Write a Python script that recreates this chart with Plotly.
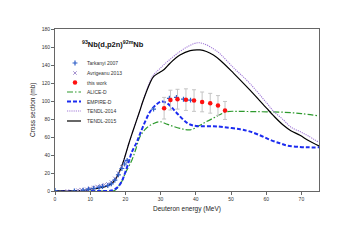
import plotly.graph_objects as go

# ---------------- data ----------------
tendl2015_x = [0, 5, 8, 10, 12, 14, 15, 16, 17, 18, 19, 20, 21, 22, 24, 25, 27, 28, 29.8, 31, 32.7, 35.5, 38.4, 41.2, 43, 45, 47, 50.7, 55.4, 60.1, 62, 64.9, 67, 69.6, 72, 75]
tendl2015_y = [0, 0, 0.5, 2, 3, 4.5, 6, 8, 12, 19, 28, 40, 53, 65, 88, 100, 120, 127, 132, 135, 142, 151, 156, 156.7, 155, 151, 145, 131, 112, 92, 84, 73, 67, 62, 56, 50]

tendl2014_x = [0, 5, 8, 10, 12, 14, 15, 16, 17, 18, 19, 20, 21, 22, 24, 25, 27, 28, 29.8, 32, 35.5, 38, 40.2, 42, 45, 47, 50.7, 55, 60.1, 62, 64.9, 67, 69.6, 72, 75]
tendl2014_y = [0, 0, 0.5, 2, 3, 4.5, 6, 8, 12, 19, 28, 40, 53, 65, 88, 100, 122, 129, 136, 144, 155, 161, 164.5, 164, 158, 152, 137, 121, 98, 89, 79, 71, 66, 61, 54]

empire_x = [0, 10, 15, 16, 17, 18, 19, 19.9, 21, 21.8, 23.2, 24.1, 25.6, 27, 28.5, 30.3, 32, 33.6, 35, 37.4, 39, 41.2, 45, 48, 52.6, 55, 58.2, 61, 63.9, 66, 69.6, 72, 75]
empire_y = [0, 0, 0, 0.5, 2, 5, 11, 20, 33, 43, 54, 63, 77, 88, 95, 99.5, 97, 91, 85, 76, 73, 72, 72, 71, 68.5, 66.5, 62, 57, 53, 50.5, 49, 48.5, 48.5]

alice_x = [0, 10, 16, 16.9, 18, 18.9, 20, 21.8, 23, 24.1, 26, 28, 29.8, 32, 35.5, 38.4, 41.2, 43, 46, 48.8, 52, 56, 60.1, 65, 70, 74.8]
alice_y = [0, 0, 0, 0.5, 5, 10, 20, 34, 47, 60, 70, 75, 77, 74, 69.6, 68, 73, 77, 83, 88, 88.5, 88.2, 88, 87.5, 86, 83.5]

tarkanyi_x = [0, 5.5, 8, 9.5, 11, 12.5, 13.5, 15, 16, 17, 18, 19, 19.8, 20.5, 28, 32.5, 34.5, 36.5, 38.5]
tarkanyi_y = [0.5, 0, 1, 2, 3, 4, 5, 6, 8, 12, 18, 25, 30, 34, 91, 103, 104, 102, 101]

avrigeanu_x = [3.5, 6.5, 7.5, 9, 10, 11, 12, 13, 14, 15, 16, 17, 18, 19, 20]
avrigeanu_y = [0, 1, 1.5, 2, 3, 4, 5, 6, 7, 8, 10, 14, 20, 27, 33]

thiswork_x = [31, 32.8, 34.8, 37.2, 39.5, 41.8, 44.1, 46.3, 48.3]
thiswork_y = [92, 101, 102, 101.5, 100.5, 99, 97.5, 95, 89.5]
thiswork_err = [12, 11, 11, 12, 12, 11, 11, 11, 10]

legend_names = ["Tarkanyi 2007", "Avrigeanu 2013", "this work", "ALICE-D", "EMPIRE-D", "TENDL-2014", "TENDL-2015"]

x_ticks = [0, 10, 20, 30, 40, 50, 60, 70]
y_ticks = [0, 20, 40, 60, 80, 100, 120, 140, 160, 180]

# ---------------- styles ----------------
FONT = "Liberation Sans, Arial, sans-serif"
C_T15 = "#000000"
C_T14 = "#a27ad8"
C_EMP = "#1c2cf0"
C_ALI = "#2e9a2e"
C_RED = "#ff1010"
C_TAR = "#2f5fc8"
C_AVR = "#a694d0"

styles = {
    "Tarkanyi 2007": dict(mode="markers", marker=dict(symbol="cross-thin", size=3.5, color=C_TAR, line=dict(color=C_TAR, width=1.2))),
    "Avrigeanu 2013": dict(mode="markers", marker=dict(symbol="x-thin", size=3.5, color=C_AVR, line=dict(color=C_AVR, width=1))),
    "this work": dict(mode="markers", marker=dict(symbol="circle", size=4.5, color=C_RED)),
    "ALICE-D": dict(mode="lines", line=dict(color=C_ALI, width=1.2, dash="6px,2px,1.5px,2px")),
    "EMPIRE-D": dict(mode="lines", line=dict(color=C_EMP, width=2, dash="4px,2px")),
    "TENDL-2014": dict(mode="lines", line=dict(color=C_T14, width=1.1, dash="1.2px,1px")),
    "TENDL-2015": dict(mode="lines", line=dict(color=C_T15, width=1.2)),
}

fig = go.Figure()

fig.add_trace(go.Scatter(x=alice_x, y=alice_y, line_shape="spline", **styles["ALICE-D"]))
fig.add_trace(go.Scatter(x=empire_x, y=empire_y, line_shape="spline", **styles["EMPIRE-D"]))
fig.add_trace(go.Scatter(x=tendl2014_x, y=tendl2014_y, line_shape="spline", **styles["TENDL-2014"]))
fig.add_trace(go.Scatter(x=tendl2015_x, y=tendl2015_y, line_shape="spline", **styles["TENDL-2015"]))
fig.add_trace(go.Scatter(x=avrigeanu_x, y=avrigeanu_y, **styles["Avrigeanu 2013"]))
fig.add_trace(go.Scatter(x=tarkanyi_x, y=tarkanyi_y, **styles["Tarkanyi 2007"]))
fig.add_trace(go.Scatter(x=thiswork_x, y=thiswork_y,
                         error_y=dict(type="data", array=thiswork_err, color="#c4c4c4", thickness=1, width=2),
                         **styles["this work"]))

# ---------------- manual legend on overlay axes (paper-like coords) ----------------
L, R, T, B = 55, 32, 29, 57
W, H = 351, 248
PW, PH = W - L - R, H - T - B

def px2x(px):
    return (px - L) / PW

def py2y(py):
    return (H - B - py) / PH

leg_py = [63, 73, 82.5, 92, 101.5, 111, 121]
for name, py in zip(legend_names, leg_py):
    st = styles[name]
    if st["mode"] == "lines":
        fig.add_trace(go.Scatter(x=[px2x(67), px2x(81)], y=[py2y(py), py2y(py)], xaxis="x2", yaxis="y2", **st))
    else:
        fig.add_trace(go.Scatter(x=[px2x(75)], y=[py2y(py)], xaxis="x2", yaxis="y2", **st))
    fig.add_annotation(x=px2x(85), y=py2y(py), xref="paper", yref="paper", text=name,
                       showarrow=False, xanchor="left", yanchor="middle",
                       font=dict(family=FONT, size=5, color="#333333"))

fig.add_annotation(x=px2x(113), y=py2y(44), xref="paper", yref="paper",
                   xanchor="center", yanchor="middle",
                   text="<b><sup>93</sup>Nb(d,p2n)<sup>92m</sup>Nb</b>", showarrow=False,
                   font=dict(family=FONT, size=7.5, color="#111111"))
fig.add_annotation(x=0.5, y=py2y(209), xref="paper", yref="paper",
                   xanchor="center", yanchor="middle",
                   text="Deuteron energy (MeV)", showarrow=False,
                   font=dict(family=FONT, size=6.5, color="#222222"))
fig.add_annotation(x=px2x(33), y=0.5, xref="paper", yref="paper",
                   xanchor="center", yanchor="middle",
                   text="Cross section (mb)", showarrow=False, textangle=-90,
                   font=dict(family=FONT, size=6.5, color="#222222"))

fig.update_layout(
    width=W, height=H,
    margin=dict(l=L, r=R, t=T, b=B),
    paper_bgcolor="white", plot_bgcolor="white",
    showlegend=False,
    xaxis=dict(range=[0, 75], tickvals=x_ticks, ticks="outside", ticklen=3, tickcolor="#666",
               showline=True, linecolor="#666", linewidth=1, mirror=True,
               showgrid=False, zeroline=False, automargin=False,
               tickfont=dict(family=FONT, size=5, color="#333")),
    yaxis=dict(range=[0, 180], tickvals=y_ticks, ticks="outside", ticklen=3, tickcolor="#666",
               showline=True, linecolor="#666", linewidth=1, mirror=True,
               showgrid=False, zeroline=False, automargin=False,
               tickfont=dict(family=FONT, size=5, color="#333")),
    xaxis2=dict(range=[0, 1], overlaying="x", visible=False, fixedrange=True),
    yaxis2=dict(range=[0, 1], overlaying="y", visible=False, fixedrange=True),
)

fig.write_html("out.html", config={"displayModeBar": False, "staticPlot": True},
               post_script="document.body.style.margin='0px';document.body.style.overflow='hidden';")
